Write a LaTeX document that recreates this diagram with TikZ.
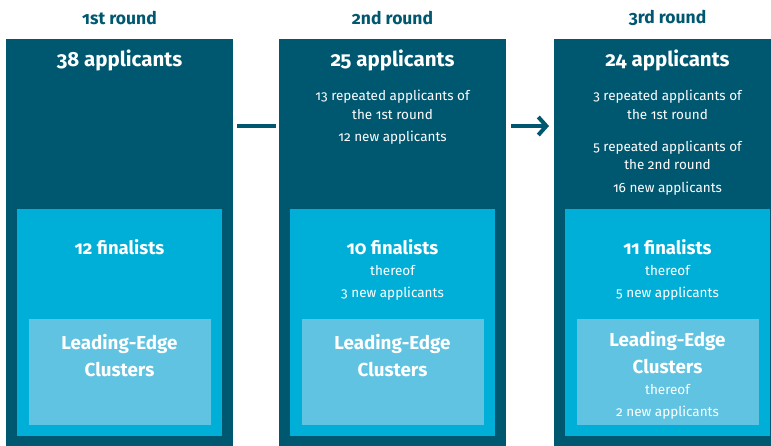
\documentclass[tikz,border=0pt]{standalone}
\usepackage{fontspec}
\setmainfont{Fira Sans}[Numbers=OldStyle]
\usetikzlibrary{arrows.meta,calc}
\definecolor{darkteal}{RGB}{0,87,112}
\definecolor{midcyan}{RGB}{0,175,215}
\definecolor{lightcyan}{RGB}{95,195,225}
\tikzset{
  outerbox/.style={fill=darkteal,draw=none,inner sep=0,outer sep=0,minimum width=227pt,minimum height=408pt,anchor=north west},
  innerbox/.style={fill=midcyan,draw=none,inner sep=0,outer sep=0,minimum width=205pt,minimum height=227pt,anchor=north west},
  lebox/.style={fill=lightcyan,draw=none,inner sep=0,outer sep=0,minimum width=182pt,minimum height=106pt,anchor=north west},
  title/.style={text=darkteal,font=\fontsize{17.5}{20}\selectfont\bfseries,inner sep=0},
  big/.style={text=white,font=\fontsize{20.5}{24}\selectfont\bfseries,inner sep=0,align=center},
  mid/.style={text=white,font=\fontsize{18.5}{22}\selectfont\bfseries,inner sep=0,align=center},
  le/.style={text=white,font=\fontsize{18.8}{27}\selectfont\bfseries,inner sep=0,align=center},
  small/.style={text=white,font=\fontsize{13.5}{18.5}\selectfont,inner sep=0,align=center},
  small2/.style={text=white,font=\fontsize{13.5}{22}\selectfont,inner sep=0,align=center},
  conn/.style={draw=darkteal,line width=4pt}
}
\begin{document}
\begin{tikzpicture}[x=1pt,y=-1pt]
\useasboundingbox (0,0) rectangle (771,446);
% boxes
\node[outerbox] (r1) at (6,39) {};
\node[outerbox] (r2) at (279,39) {};
\node[outerbox] (r3) at (554,39) {};
\node[innerbox] (f1) at (17,209) {};
\node[innerbox] (f2) at (290,209) {};
\node[innerbox] (f3) at (565,209) {};
\node[lebox] (l1) at (29,319) {};
\node[lebox] (l2) at (302,319) {};
\node[lebox] (l3) at (577,319) {};
% titles
\node[title] (t1) at (119.5,18) {1st round};
\node[title] (t2) at (392.5,18) {2nd round};
\node[title] (t3) at (667.5,18) {3rd round};
% applicants
\node[big] (a1) at (119.5,60) {38 applicants};
\node[big] (a2) at (392.5,60) {25 applicants};
\node[big] (a3) at (667.5,60) {24 applicants};
\node[small] (s2a) at (392.5,105) {13 repeated applicants of\\the 1st round};
\node[small] (s2b) at (392.5,138) {12 new applicants};
\node[small] (s3a) at (667.5,105) {3 repeated applicants of\\the 1st round};
\node[small] (s3b) at (667.5,155.5) {5 repeated applicants of\\the 2nd round};
\node[small] (s3c) at (667.5,189) {16 new applicants};
% finalists
\node[mid] (n1) at (119.5,247) {12 finalists};
\node[mid] (n2) at (392.5,247) {10 finalists};
\node[mid] (n3) at (667.5,247) {11 finalists};
\node[small2] (n2b) at (392.5,283) {thereof\\3 new applicants};
\node[small2] (n3b) at (667.5,283) {thereof\\5 new applicants};
% leading edge
\node[le] (e1) at (119.5,355.5) {Leading-Edge\\Clusters};
\node[le] (e2) at (392.5,355.5) {Leading-Edge\\Clusters};
\node[le] (e3) at (667.5,352.5) {Leading-Edge\\Clusters};
\node[small2] (e3b) at (667.5,402) {thereof\\2 new applicants};
% connectors
\draw[conn] ($(r1.north east)+(4,87)$) -- ($(r2.north west)+(-3,87)$);
\draw[conn,-{Straight Barb[length=8pt,width=18pt]}] ($(r2.north east)+(5,87)$) -- ($(r3.north west)+(-5,87)$);
\end{tikzpicture}
\end{document}
